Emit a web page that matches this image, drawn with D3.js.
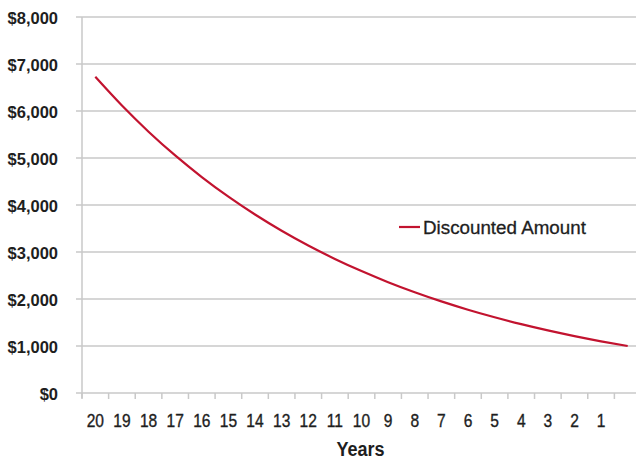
<!DOCTYPE html>
<html>
<head>
<meta charset="utf-8">
<script src="https://cdn.jsdelivr.net/npm/d3@7"></script>
<style>
  html, body { margin: 0; padding: 0; background: #fff; }
  svg { display: block; }
</style>
</head>
<body>
<svg id="chart" width="636" height="462"></svg>
<script>
// Years remaining (last slot is the present, unlabeled)
const years = ["20","19","18","17","16","15","14","13","12","11","10","9","8","7","6","5","4","3","2","1",""];
// Present value of $1,000 at each point
const discounted = [6727, 6116, 5560, 5054, 4595, 4177, 3797, 3452, 3138, 2853, 2594, 2358, 2144, 1949, 1772, 1611, 1464, 1331, 1210, 1100, 1000];
const yTicks = [0, 1000, 2000, 3000, 4000, 5000, 6000, 7000, 8000];
const seriesName = "Discounted Amount";
const xTitle = "Years";

const svg = d3.select("#chart");
const font = "'Liberation Sans', Arial, sans-serif";
const gridColor = "#c9c9c9";
const lineColor = "#c2132f";
const textColor = "#1e1e1e";

const plotLeft = 82, plotRight = 641, plotTop = 17, plotBottom = 393;

const x = d3.scaleBand().domain(years.map((d, i) => i)).range([plotLeft, plotRight]).padding(0);
const y = d3.scaleLinear().domain([0, 8000]).range([plotBottom, plotTop]);

// Horizontal gridlines with short left ticks
svg.append("g").selectAll("line").data(yTicks).join("line")
  .attr("x1", plotLeft - 6).attr("x2", 636)
  .attr("y1", d => y(d)).attr("y2", d => y(d))
  .attr("stroke", gridColor).attr("stroke-width", 1.5);

// Vertical axis line
svg.append("line")
  .attr("x1", plotLeft).attr("x2", plotLeft).attr("y1", plotTop).attr("y2", plotBottom + 5)
  .attr("stroke", gridColor).attr("stroke-width", 1.5);

// Category separators below the baseline
svg.append("g").selectAll("line").data(d3.range(years.length + 1)).join("line")
  .attr("x1", i => plotLeft + i * x.bandwidth()).attr("x2", i => plotLeft + i * x.bandwidth())
  .attr("y1", plotBottom).attr("y2", plotBottom + 6)
  .attr("stroke", gridColor).attr("stroke-width", 1.5);

// Y labels
svg.append("g").selectAll("text").data(yTicks).join("text")
  .attr("x", 58).attr("y", d => y(d) + 7.3)
  .attr("text-anchor", "end")
  .attr("font-family", font).attr("font-weight", "bold").attr("font-size", 16.5)
  .attr("fill", textColor)
  .text(d => d3.format("$,")(d));

// X labels (narrowed horizontally, slightly heavier)
svg.append("g").selectAll("text").data(years).join("text")
  .attr("transform", (d, i) => `translate(${x(i) + x.bandwidth() / 2},426.5) scale(0.89,1)`)
  .attr("text-anchor", "middle")
  .attr("font-family", font).attr("font-size", 17.5)
  .attr("fill", textColor)
  .attr("stroke", textColor).attr("stroke-width", 0.35)
  .text(d => d);

// Axis title
svg.append("text")
  .attr("transform", "translate(360.5,456) scale(0.86,1)")
  .attr("text-anchor", "middle")
  .attr("font-family", font).attr("font-weight", "bold").attr("font-size", 21)
  .attr("fill", textColor)
  .text(xTitle);

// Series line
const line = d3.line()
  .x((d, i) => x(i) + x.bandwidth() / 2)
  .y(d => y(d))
  .curve(d3.curveMonotoneX);

svg.append("path")
  .datum(discounted)
  .attr("d", line)
  .attr("fill", "none")
  .attr("stroke", lineColor)
  .attr("stroke-width", 2.2);

// Legend
const lg = svg.append("g").attr("transform", "translate(399,227)");
lg.append("line").attr("x1", 0).attr("x2", 21).attr("y1", 0).attr("y2", 0)
  .attr("stroke", lineColor).attr("stroke-width", 2.2);
lg.append("text").attr("x", 24).attr("y", 7)
  .attr("font-family", font).attr("font-size", 18.8)
  .attr("fill", textColor)
  .attr("stroke", textColor).attr("stroke-width", 0.3)
  .text(seriesName);
</script>
</body>
</html>
